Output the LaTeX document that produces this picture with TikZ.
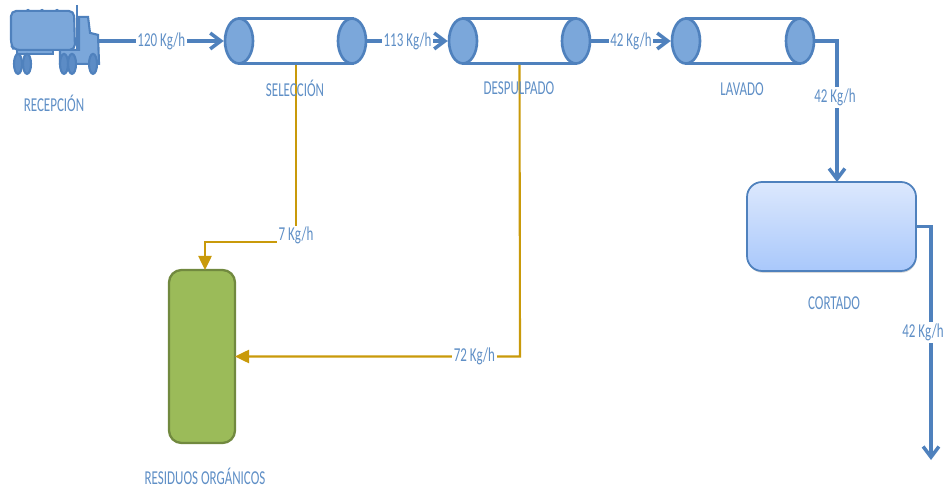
\documentclass[tikz,border=0pt]{standalone}
\usepackage{fontspec}
\setmainfont[FakeStretch=0.66]{Carlito}
\usetikzlibrary{arrows.meta,shapes.geometric,shadows}
\definecolor{flowblue}{HTML}{4F81BD}
\definecolor{capblue}{HTML}{7BA7DA}
\definecolor{textblue}{HTML}{5F8FC6}
\definecolor{wastegold}{HTML}{C99A0A}
\definecolor{wastegreen}{HTML}{9BBB59}
\definecolor{edgegreen}{HTML}{71893F}
\definecolor{cuttop}{HTML}{DCE8FD}
\definecolor{cutbottom}{HTML}{A9C8FB}
\tikzset{
    tube/.style={draw=flowblue,line width=1.5pt,fill=white,minimum width=2.26cm,minimum height=0.9cm,inner sep=0pt},
    tubecap/.style={ellipse,draw=flowblue,line width=1.5pt,fill=capblue,minimum width=0.56cm,minimum height=0.9cm,inner sep=0pt},
    flow/.style={draw=flowblue,line width=2.2pt},
    flowarrow/.style={flow,-{Straight Barb[length=6pt,width=9pt,line width=2pt]}},
    waste/.style={draw=wastegold,line width=1.2pt,-{Triangle[length=8pt,width=7.5pt]}},
    rate/.style={fill=white,inner sep=1pt,text=textblue,font=\fontsize{11.2}{13}\selectfont},
    stage/.style={text=textblue,font=\fontsize{11.2}{13}\selectfont,inner sep=0pt},
    truckpart/.style={draw=flowblue,line width=1.2pt,fill=capblue}
}
\begin{document}
\begin{tikzpicture}
    \useasboundingbox (0,0) rectangle (18.92,9.76);
    % tubes
    \node[tube] (selTube) at (5.92,8.94) {};
    \node[tubecap] (selIn) at (4.78,8.94) {};
    \node[tubecap] (selOut) at (7.04,8.94) {};
    \node[tube] (desTube) at (10.39,8.94) {};
    \node[tubecap] (desIn) at (9.26,8.94) {};
    \node[tubecap] (desOut) at (11.52,8.94) {};
    \node[tube] (lavTube) at (14.86,8.94) {};
    \node[tubecap] (lavIn) at (13.72,8.94) {};
    \node[tubecap] (lavOut) at (16,8.94) {};
    % boxes
    \node[draw=flowblue,line width=1pt,outer sep=0pt,rounded corners=0.3cm,top color=cuttop,bottom color=cutbottom,drop shadow={opacity=0.3,shadow xshift=0.3pt,shadow yshift=-1pt},minimum width=3.38cm,minimum height=1.78cm] (cutBox) at (16.63,5.23) {};
    \node[draw=edgegreen,line width=1.3pt,outer sep=0pt,fill=wastegreen,rounded corners=0.25cm,minimum width=1.32cm,minimum height=3.46cm] (wasteBox) at (4.04,2.63) {};
    % truck
    \begin{scope}[x=0.02cm,y=-0.02cm,shift={(0,-488)}]
        \draw[truckpart] (79,17) -- (88,17) -- (90,33) -- (98,35) -- (99,64) -- (60,64) -- (60,50) -- (79,50) -- cycle;
        \draw[flowblue,line width=1.6pt] (77,5) -- (77,50);
        \foreach \bump in {28,42,57}
            \fill[flowblue] (\bump,11) circle (2);
        \draw[truckpart,rounded corners=3pt] (11,11) -- (74,11) -- (75,50) -- (14,50) -- (11,45) -- cycle;
        \draw[truckpart] (17,50) rectangle (53,54);
        \foreach \wheel in {18,27,64,72,93}
            \draw[truckpart,fill=flowblue!70!capblue] (\wheel,64) ellipse (4 and 10);
    \end{scope}
    \coordinate (truckOut) at (1.98,8.94);
    \coordinate (endOut) at (18.62,0.56);
    \coordinate (cutTurn) at (18.62,5.23);
    \coordinate (lavTurn) at (16.74,8.94);
    \coordinate (selTurn) at (5.92,4.92);
    \coordinate (selDown) at (4.1,4.92);
    \coordinate (desTurn) at (10.4,2.63);
    % connectors
    \draw[flowarrow] (truckOut) -- node[rate,pos=0.5] {120 Kg/h} (selIn.west);
    \draw[flowarrow] (selOut.east) -- node[rate] {113 Kg/h} (desIn.west);
    \draw[flowarrow] (desOut.east) -- node[rate] {42 Kg/h} (lavIn.west);
    \draw[flowarrow] (lavOut.east) -- (lavTurn) -- node[rate,pos=0.4,xshift=-0.04cm] {42 Kg/h} (lavTurn |- cutBox.north);
    \draw[flowarrow] (cutBox.east) -- (cutTurn) -- node[rate,pos=0.455,xshift=-0.16cm] {42 Kg/h} (endOut);
    \draw[waste] (selTube.south) -- node[rate,pos=0.965] {7 Kg/h} (selTurn) -- (selDown) -- (selDown |- wasteBox.north);
    \draw[waste] (desTube.south) -- (desTurn) -- node[rate,pos=0.16] {72 Kg/h} (wasteBox.east);
    % labels
    \node[stage] (recLabel) at (1.08,7.7) {RECEPCIÓN};
    \node[stage] (selLabel) at (5.9,7.99) {SELECCIÓN};
    \node[stage] (desLabel) at (10.38,7.99) {DESPULPADO};
    \node[stage] (lavLabel) at (14.84,7.98) {LAVADO};
    \node[stage] (cutLabel) at (16.68,3.7) {CORTADO};
    \node[stage] (wasteLabel) at (4.1,0.24) {RESIDUOS ORGÁNICOS};
\end{tikzpicture}
\end{document}
